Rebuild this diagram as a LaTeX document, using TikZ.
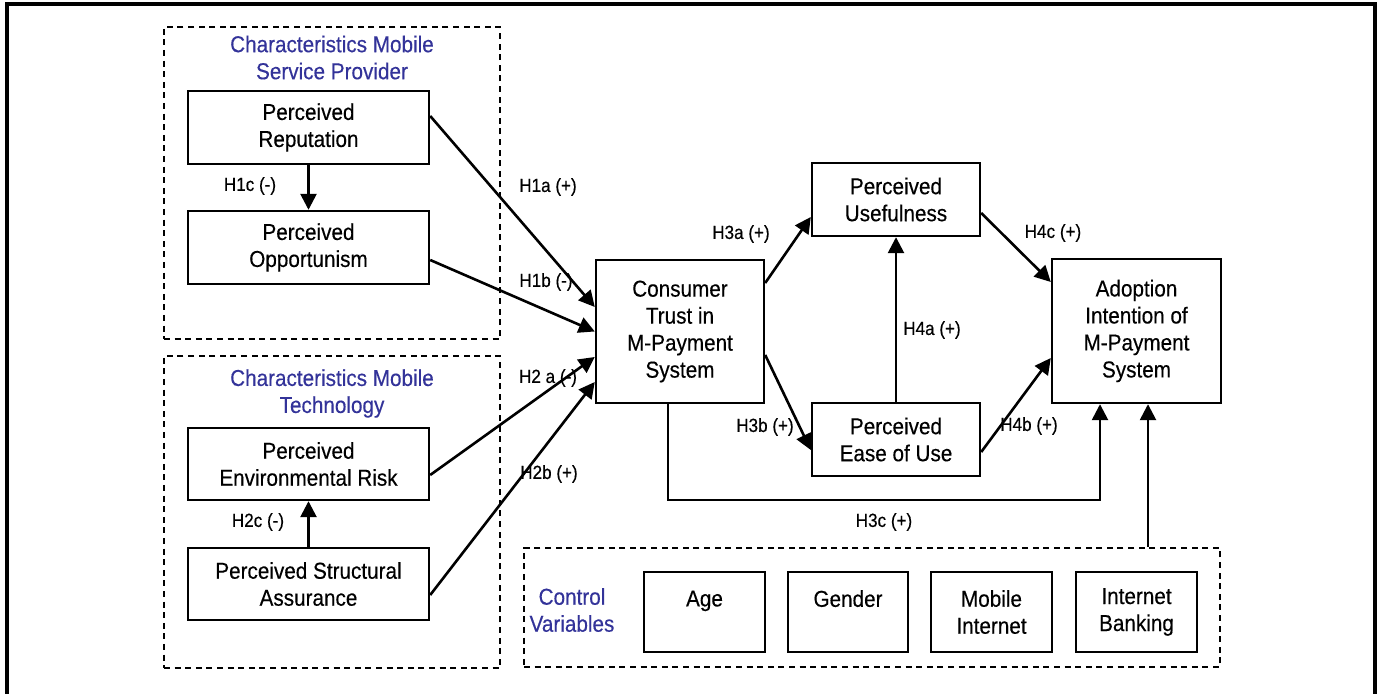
\documentclass[tikz,border=0pt]{standalone}
\usepackage{fontspec}
\setmainfont{Liberation Sans}[FakeStretch=0.9,FakeBold=0.35]
\usetikzlibrary{arrows.meta}
\definecolor{grptitle}{RGB}{51,51,153}

\begin{document}
\begin{tikzpicture}[x=0.5pt,y=-0.5pt,
    box/.style={draw,line width=1.2pt,inner sep=0pt,align=center,font=\fontsize{11.5}{13.5}\selectfont},
    grp/.style={draw,line width=1.1pt,dash pattern=on 3pt off 2.3pt,inner sep=0pt},
    grptext/.style={text=grptitle,align=center,font=\fontsize{11.5}{13.5}\selectfont},
    hyp/.style={inner sep=0pt,font=\fontsize{9.5}{11.5}\selectfont},
    arr/.style={line width=1.3pt,-{Triangle[length=8pt,width=8pt]}}]
  \useasboundingbox (0,0) rectangle (1382,694);
  \draw[line width=1.6pt] (7,700) -- (7,4) -- (1375,4) -- (1375,700);

  % groups
  \node[grp,minimum width=168pt,minimum height=156pt] (provider) at (332,183) {};
  \node[grp,minimum width=168pt,minimum height=156pt] (technology) at (332,512) {};
  \node[grp,minimum width=348pt,minimum height=59.5pt] (control) at (872,607.5) {};
  \node[grptext] (providertitle) at (332,57.5) {Characteristics Mobile\\Service Provider};
  \node[grptext] (technologytitle) at (332,393.5) {Characteristics Mobile\\Technology};
  \node[grptext] (controltitle) at (572,610) {Control\\Variables};

  % constructs
  \node[box,minimum width=120.5pt,minimum height=36.5pt] (rep) at (308.5,127.5) {Perceived\\Reputation};
  \node[box,minimum width=120.5pt,minimum height=36.5pt] (opp) at (308.5,247.5) {Perceived\\Opportunism};
  \node[box,minimum width=120.5pt,minimum height=36pt] (env) at (308.5,464) {Perceived\\Environmental Risk};
  \node[box,minimum width=120.5pt,minimum height=36pt] (sa) at (308.5,584) {Perceived Structural\\Assurance};
  \node[box,minimum width=84pt,minimum height=71.5pt] (trust) at (680,331.5) {Consumer\\Trust in\\M-Payment\\System};
  \node[box,minimum width=84pt,minimum height=36.5pt] (use) at (896,199.5) {Perceived\\Usefulness};
  \node[box,minimum width=84pt,minimum height=36.5pt] (ease) at (896,439.5) {Perceived\\Ease of Use};
  \node[box,minimum width=84.5pt,minimum height=72pt] (adopt) at (1136.5,331) {Adoption\\Intention of\\M-Payment\\System};

  % control variables
  \node[box,minimum width=60.5pt,minimum height=40pt] (age) at (704.5,612) {Age\\~};
  \node[box,minimum width=60pt,minimum height=40pt] (gender) at (848,612) {Gender\\~};
  \node[box,minimum width=60.5pt,minimum height=40pt] (mobile) at (991.5,612) {Mobile\\Internet};
  \node[box,minimum width=60.5pt,minimum height=40pt] (banking) at (1136.5,612) {Internet\\Banking};

  % hypotheses
  \draw[arr] (rep) -- (opp);
  \draw[arr] (sa) -- (env);
  \draw[arr] ([yshift=5.75pt]rep.east) -- ([yshift=12.25pt]trust.west);
  \draw[arr] ([yshift=-6.25pt]opp.east) -- (trust.west);
  \draw[arr] ([yshift=-5.5pt]env.east) -- ([yshift=-12.75pt]trust.west);
  \draw[arr] ([yshift=-5.5pt]sa.east) -- ([yshift=-25.25pt]trust.west);
  \draw[arr] ([yshift=24.25pt]trust.east) -- ([yshift=-8.75pt]use.west);
  \draw[arr] ([yshift=-11.75pt]trust.east) -- ([yshift=-5.25pt]ease.west);
  \draw[arr] (ease) -- (use);
  \draw[arr] ([yshift=-6.75pt]use.east) -- ([yshift=24.5pt]adopt.west);
  \draw[arr] ([yshift=-6.25pt]ease.east) -- ([yshift=-13.5pt]adopt.west);
  \coordinate (trustout) at ([xshift=-6pt]trust.south);
  \coordinate (adoptin) at ([xshift=-18.25pt]adopt.south);
  \coordinate (controlin) at ([xshift=5.75pt]adopt.south);
  \draw[arr] (trustout) -- ++(0,96) -| (adoptin);
  \draw[arr] (controlin |- control.north) -- (controlin);

  \node[hyp] (h1c) at (250,186) {H1c (-)};
  \node[hyp] (h2c) at (258,522) {H2c (-)};
  \node[hyp] (h1a) at (548,187) {H1a (+)};
  \node[hyp] (h1b) at (546,282) {H1b (-)};
  \node[hyp] (h2a) at (548,378) {H2 a (-)};
  \node[hyp] (h2b) at (549,474) {H2b (+)};
  \node[hyp] (h3a) at (741,234) {H3a (+)};
  \node[hyp] (h3b) at (765,427) {H3b (+)};
  \node[hyp] (h4a) at (932,330) {H4a (+)};
  \node[hyp] (h4c) at (1053,233) {H4c (+)};
  \node[hyp] (h4b) at (1029,426) {H4b (+)};
  \node[hyp] (h3c) at (884,522) {H3c (+)};
\end{tikzpicture}
\end{document}
